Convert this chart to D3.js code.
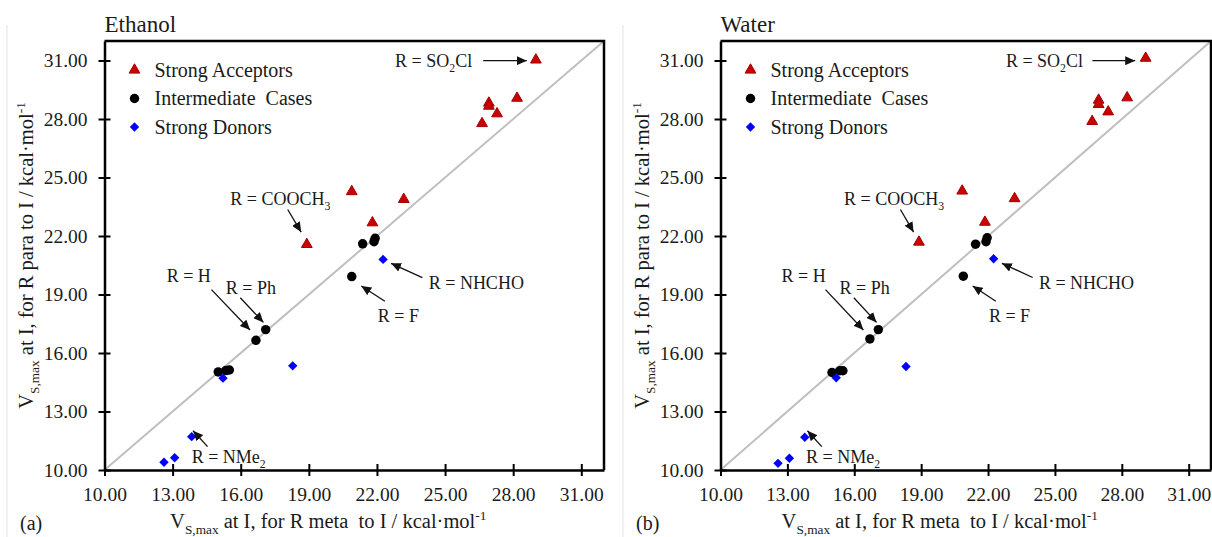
<!DOCTYPE html>
<html><head><meta charset="utf-8">
<script src="https://cdn.jsdelivr.net/npm/d3@7"></script>
<style>
body{margin:0;background:#fff;}
svg text{font-family:"Liberation Serif","Times New Roman",serif;fill:#1a1a1a;white-space:pre;}
</style></head><body>
<svg id="chart" width="1212" height="537"></svg>
<script>
// ---------- data ----------
const tickValues = [10, 13, 16, 19, 22, 25, 28, 31];
const axisDomain = [10, 32];
const seriesNames = ["Strong Acceptors", "Intermediate  Cases", "Strong Donors"];

const ethanolAcceptors = [[29.00,31.03],[28.17,29.07],[26.93,28.82],[26.93,28.66],[27.29,28.27],[26.63,27.77],[20.89,24.28],[23.18,23.88],[21.80,22.68],[18.91,21.57]];
const ethanolIntermediate = [[21.37,21.60],[21.87,21.71],[21.92,21.88],[20.89,19.92],[16.67,16.65],[17.10,17.20],[15.01,15.03],[15.35,15.10],[15.50,15.13]];
const ethanolDonors = [[22.27,20.80],[18.29,15.34],[15.22,14.71],[13.84,11.71],[13.09,10.63],[12.62,10.40]];

const waterAcceptors = [[29.07,31.12],[28.24,29.09],[26.96,28.97],[26.96,28.75],[27.39,28.37],[26.67,27.88],[20.84,24.31],[23.19,23.92],[21.86,22.71],[18.90,21.69]];
const waterIntermediate = [[21.44,21.58],[21.91,21.71],[21.96,21.91],[20.89,19.94],[16.70,16.72],[17.08,17.20],[15.00,15.00],[15.35,15.09],[15.49,15.09]];
const waterDonors = [[22.25,20.83],[18.32,15.31],[15.19,14.73],[13.78,11.68],[13.09,10.60],[12.58,10.34]];

// annotation labels (anchored in data units)
const annotations = [
  {parts:[["R = SO"],["2","sub"],["Cl"]], tx:22.80, ty:30.99, from:[26.68,30.99], to:[28.60,30.99]},
  {parts:[["R = COOCH"],["3","sub"]], tx:15.54, ty:23.92, from:[18.07,23.36], to:[18.66,22.20]},
  {parts:[["R = H"]], tx:12.74, ty:19.94, from:[14.71,19.25], to:[16.41,17.18]},
  {parts:[["R = Ph"]], tx:15.34, ty:19.34, from:[15.98,18.83], to:[17.00,17.57]},
  {parts:[["R = NHCHO"]], tx:24.28, ty:19.61, from:[24.00,19.87], to:[22.62,20.60]},
  {parts:[["R = F"]], tx:22.04, ty:17.90, from:[22.35,18.65], to:[21.31,19.44]},
  {parts:[["R = NMe"],["2","sub"]], tx:13.84, ty:10.68, from:[14.54,11.20], to:[13.90,12.01]}
];

// ---------- layout ----------
const svg = d3.select("#chart");
const plotTop = 41, plotBottom = 470;
const panels = [
  {title:"Ethanol", tag:"(a)", left:104.5, right:604, frameX:7, series:[ethanolAcceptors, ethanolIntermediate, ethanolDonors]},
  {title:"Water", tag:"(b)", left:720.5, right:1211, frameX:623, series:[waterAcceptors, waterIntermediate, waterDonors]}
];

const defs = svg.append("defs");
defs.append("marker").attr("id","arrow").attr("markerUnits","userSpaceOnUse")
  .attr("markerWidth",11).attr("markerHeight",9).attr("refX",10).attr("refY",4.5).attr("orient","auto")
  .append("path").attr("d","M0,0 L10,4.5 L0,9 Z").attr("fill","#111");

const fmt = d3.format(".2f");
const styles = [
  {sym:d3.symbolTriangle, size:50, fill:"#cc0000", stroke:"#a00000", rot:0},
  {sym:d3.symbolCircle, size:70, fill:"#000", stroke:"none", rot:0},
  {sym:d3.symbolSquare, size:44, fill:"#0000ff", stroke:"none", rot:45}
];

function rich(sel, parts, fs){
  let shift = 0;
  parts.forEach(([t, kind]) => {
    const ts = sel.append("tspan").text(t);
    let target = 0;
    if (kind === "sub") { target = fs*0.3; ts.attr("font-size", fs*0.65); }
    else if (kind === "sup") { target = -fs*0.38; ts.attr("font-size", fs*0.65); }
    if (target !== shift) { ts.attr("dy", target - shift); shift = target; }
  });
}

panels.forEach(p => {
  const x = d3.scaleLinear().domain(axisDomain).range([p.left, p.right]);
  const y = d3.scaleLinear().domain(axisDomain).range([plotBottom, plotTop]);
  const g = svg.append("g");

  g.append("line").attr("x1",p.frameX).attr("x2",p.frameX).attr("y1",25).attr("y2",537)
    .attr("stroke","#e4e4e4").attr("stroke-width",1);

  g.append("line").attr("x1",x(axisDomain[0])).attr("y1",y(axisDomain[0]))
    .attr("x2",x(axisDomain[1])).attr("y2",y(axisDomain[1]))
    .attr("stroke","#bfbfbf").attr("stroke-width",2);

  g.append("path").attr("d",`M${x(axisDomain[0])},${y(axisDomain[1])}H${x(axisDomain[1])}V${y(axisDomain[0])}`)
    .attr("fill","none").attr("stroke","#000").attr("stroke-width",2.5);

  const xa = g.append("g").attr("transform",`translate(0,${plotBottom})`)
    .call(d3.axisBottom(x).tickValues(tickValues).tickFormat(fmt).tickSize(6).tickSizeOuter(0).tickPadding(11));
  const ya = g.append("g").attr("transform",`translate(${p.left},0)`)
    .call(d3.axisLeft(y).tickValues(tickValues).tickFormat(fmt).tickSize(6).tickSizeOuter(0).tickPadding(11));
  xa.selectAll(".tick line").attr("y1",-6).attr("stroke-width",2);
  ya.selectAll(".tick line").attr("x1",6).attr("stroke-width",2);
  [xa, ya].forEach(a => {
    a.select(".domain").attr("stroke-width",2.5);
    a.selectAll("text").attr("font-size",19.5).attr("font-family","Liberation Serif").attr("fill","#1a1a1a");
  });

  p.series.forEach((data, i) => {
    const st = styles[i];
    g.append("g").selectAll("path").data(data).join("path")
      .attr("d", d3.symbol(st.sym, st.size))
      .attr("transform", d => `translate(${x(d[0])},${y(d[1])}) rotate(${st.rot})`)
      .attr("fill", st.fill).attr("stroke", st.stroke).attr("stroke-width", 1);
  });

  const lg = g.append("g").attr("transform",`translate(${p.left+30},${plotTop+29})`);
  seriesNames.forEach((name, i) => {
    const st = styles[i];
    const row = lg.append("g").attr("transform",`translate(0,${i*28.5})`);
    row.append("path").attr("d", d3.symbol(st.sym, st.size)).attr("transform",`rotate(${st.rot})`)
      .attr("fill", st.fill).attr("stroke", st.stroke);
    row.append("text").attr("x",20).attr("y",6.5).attr("font-size",20).text(name);
  });

  annotations.forEach(a => {
    g.append("line").attr("x1",x(a.from[0])).attr("y1",y(a.from[1]))
      .attr("x2",x(a.to[0])).attr("y2",y(a.to[1]))
      .attr("stroke","#111").attr("stroke-width",1.3).attr("marker-end","url(#arrow)");
    const t = g.append("text").attr("x",x(a.tx)).attr("y",y(a.ty)+6).attr("font-size",18);
    rich(t, a.parts, 18);
  });

  g.append("text").attr("x",p.left).attr("y",32).attr("font-size",23).text(p.title);

  const xt = g.append("text").attr("x",(p.left+p.right)/2-26).attr("y",528)
    .attr("text-anchor","middle").attr("font-size",20.5);
  rich(xt, [["V"],["S,max","sub"],[" at I, for R meta  to I / kcal·mol"],["-1","sup"]], 20.5);
  const yt = g.append("text").attr("transform",`translate(${p.left-71.5},${(plotTop+plotBottom)/2}) rotate(-90)`)
    .attr("text-anchor","middle").attr("font-size",20.5);
  rich(yt, [["V"],["S,max","sub"],[" at I, for R para to I / kcal·mol"],["-1","sup"]], 20.5);

  g.append("text").attr("x",p.frameX+13).attr("y",530).attr("font-size",20).text(p.tag);
});
</script>
</body></html>
